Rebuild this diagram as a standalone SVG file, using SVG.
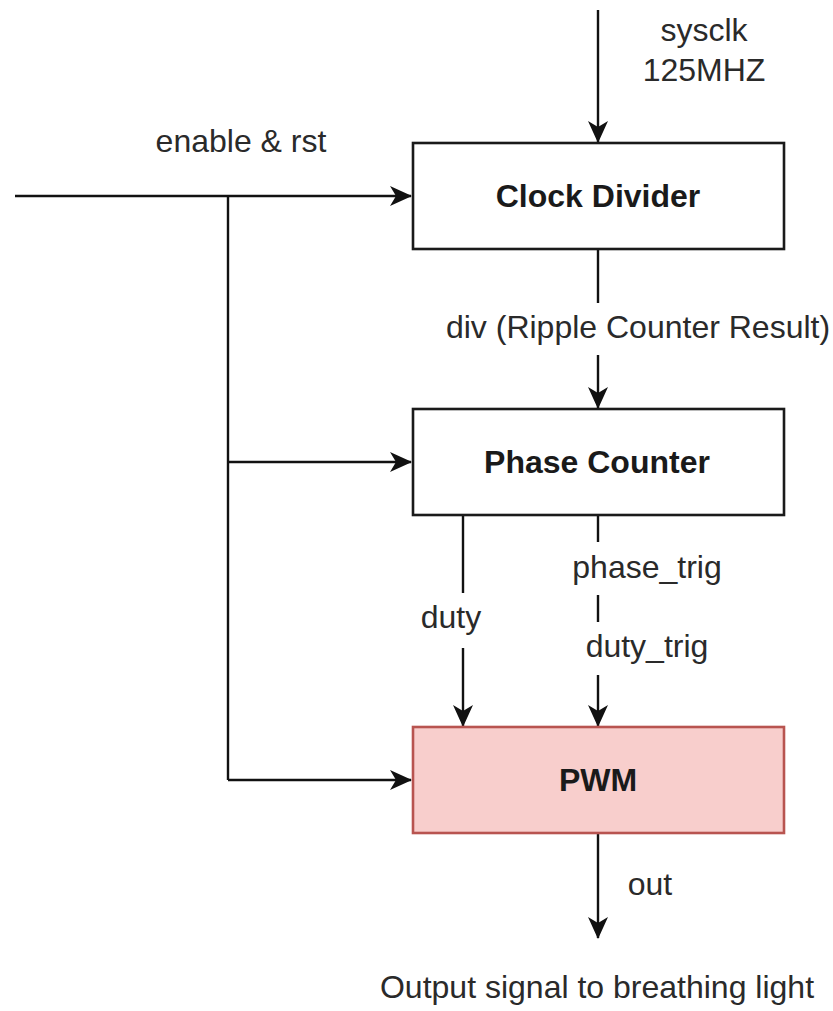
<svg xmlns="http://www.w3.org/2000/svg" width="833" height="1011" viewBox="0 0 833 1011">
<style>
.box{stroke:#1a1a1a;stroke-width:2.6;fill:#ffffff}
.pwm{fill:#f8cecc;stroke:#b85450;stroke-width:2.6}
.title{font-family:"Liberation Sans",Arial,sans-serif;font-size:32px;font-weight:bold;fill:#1a1a1a;text-anchor:middle}
.lbl{font-family:"Liberation Sans",Arial,sans-serif;font-size:32px;fill:#2a2a2a;text-anchor:middle}
.wire{stroke:#111;stroke-width:2.4;fill:none}
</style>
<defs>
<marker id="arr" markerUnits="userSpaceOnUse" viewBox="0 0 22 22" markerWidth="22" markerHeight="22" refX="21" refY="11" orient="auto">
<path d="M0,1 L22,11 L0,21 L6,11 Z" fill="#111"/>
</marker>
</defs>
<rect width="833" height="1011" fill="#ffffff"/>
<g id="connectors">
<line class="wire" x1="598" y1="10" x2="598" y2="142" marker-end="url(#arr)"/>
<line class="wire" x1="15" y1="196" x2="411" y2="196" marker-end="url(#arr)"/>
<line class="wire" x1="228" y1="196" x2="228" y2="780"/>
<line class="wire" x1="228" y1="462" x2="411" y2="462" marker-end="url(#arr)"/>
<line class="wire" x1="228" y1="780" x2="411" y2="780" marker-end="url(#arr)"/>
<line class="wire" x1="598" y1="249" x2="598" y2="303"/>
<line class="wire" x1="598" y1="355" x2="598" y2="408" marker-end="url(#arr)"/>
<line class="wire" x1="463" y1="515" x2="463" y2="593"/>
<line class="wire" x1="463" y1="648" x2="463" y2="726" marker-end="url(#arr)"/>
<line class="wire" x1="598" y1="515" x2="598" y2="542"/>
<line class="wire" x1="598" y1="595" x2="598" y2="622"/>
<line class="wire" x1="598" y1="675" x2="598" y2="726" marker-end="url(#arr)"/>
<line class="wire" x1="598" y1="833" x2="598" y2="938" marker-end="url(#arr)"/>
</g>
<g id="labels">
<text class="lbl" x="704" y="41">sysclk</text>
<text class="lbl" x="704" y="81">125MHZ</text>
<text class="lbl" x="241" y="152">enable &amp; rst</text>
<text class="lbl" x="638" y="338">div (Ripple Counter Result)</text>
<text class="lbl" x="451" y="628">duty</text>
<text class="lbl" x="647" y="578">phase_trig</text>
<text class="lbl" x="647" y="657">duty_trig</text>
<text class="lbl" x="650" y="895">out</text>
<text class="lbl" x="597" y="998">Output signal to breathing light</text>
</g>
<g id="clock-divider">
<rect class="box" x="413" y="143" width="371" height="106"/>
<text class="title" x="598" y="207">Clock Divider</text>
</g>
<g id="phase-counter">
<rect class="box" x="413" y="409" width="371" height="106"/>
<text class="title" x="597" y="473">Phase Counter</text>
</g>
<g id="pwm">
<rect class="pwm" x="413" y="727" width="371" height="106"/>
<text class="title" x="598" y="791">PWM</text>
</g>
</svg>
